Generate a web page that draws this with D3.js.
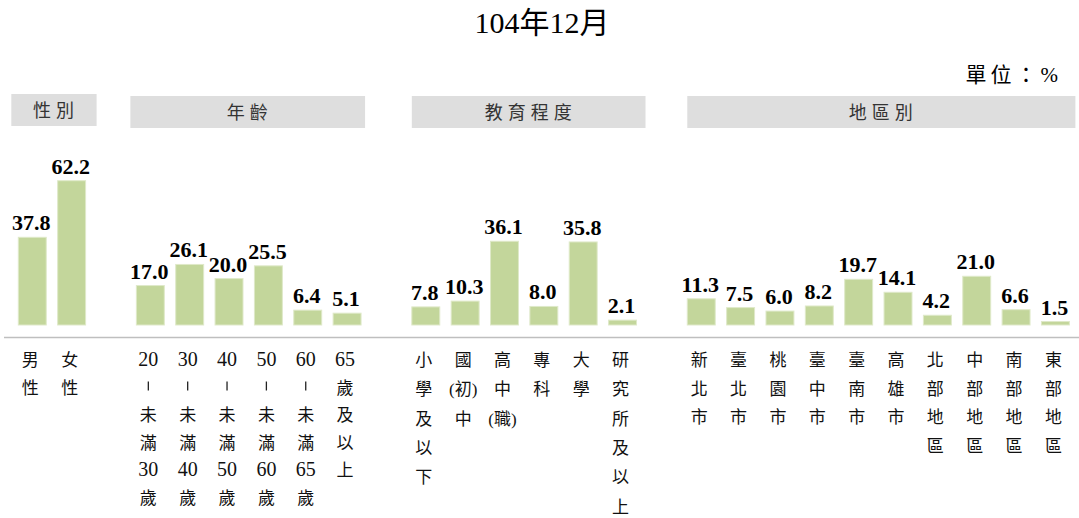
<!DOCTYPE html>
<html><head><meta charset="utf-8">
<script src="https://cdn.jsdelivr.net/npm/d3@7"></script>
<style>
html,body{margin:0;padding:0;background:#fff;}
svg{display:block;}
</style></head>
<body><svg id="c" width="1079" height="518"></svg>
<script>
// ---- data ----
const title = "104年12月";
const unitLabel = "單位：%";
const groupNames = ["性別", "年齡", "教育程度", "地區別"];
const sexCats = ["男性", "女性"];
const sexVals = [37.8, 62.2];
const ageCats = ["20－未滿30歲", "30－未滿40歲", "40－未滿50歲", "50－未滿60歲", "60－未滿65歲", "65歲及以上"];
const ageVals = [17.0, 26.1, 20.0, 25.5, 6.4, 5.1];
const eduCats = ["小學及以下", "國(初)中", "高中(職)", "專科", "大學", "研究所及以上"];
const eduVals = [7.8, 10.3, 36.1, 8.0, 35.8, 2.1];
const regCats = ["新北市", "臺北市", "桃園市", "臺中市", "臺南市", "高雄市", "北部地區", "中部地區", "南部地區", "東部地區"];
const regVals = [11.3, 7.5, 6.0, 8.2, 19.7, 14.1, 4.2, 21.0, 6.6, 1.5];

// ---- layout ----
const W = 1079, H = 518;
const svg = d3.select("#c");
const serif = "'Liberation Serif','Times New Roman','Noto Sans CJK TC',serif";
const cjk = "'Liberation Serif','Noto Sans CJK TC',serif";

const groups = [
  {name: groupNames[0], cats: sexCats, vals: sexVals, hdr: [-7, 11], hy: 94, lh: 28},
  {name: groupNames[1], cats: ageCats, vals: ageVals, hdr: [-6, 4], hy: 96, lh: 27.5},
  {name: groupNames[2], cats: eduCats, vals: eduVals, hdr: [0, 9], hy: 96, lh: 29.3},
  {name: groupNames[3], cats: regCats, vals: regVals, hdr: [0, 6], hy: 96, lh: 28.5}
];

const slots = [];
const items = [];
groups.forEach((g, gi) => {
  if (gi > 0) slots.push("gap" + gi);
  g.keys = [];
  g.cats.forEach((c, i) => {
    const k = gi + ":" + c;
    slots.push(k);
    g.keys.push(k);
    items.push({key: k, cat: c, val: g.vals[i], g});
  });
});

const x = d3.scaleBand().domain(slots).range([12.6, 1075.1]).paddingInner(0.29).paddingOuter(0.145);
const y = d3.scaleLinear().domain([0, 70]).range([325, 325 - 70 * 2.32]);

// title
svg.append("text").attr("x", 542).attr("y", 33).attr("text-anchor", "middle")
  .style("font-family", cjk).style("font-size", "30px").attr("fill", "#000").text(title);
svg.append("text").attr("x", 1062).attr("y", 82).attr("text-anchor", "end")
  .style("font-family", cjk).style("font-size", "21px").style("letter-spacing", "4px")
  .attr("fill", "#000").text(unitLabel);

// group headers
groups.forEach(g => {
  const x0 = x(g.keys[0]) + g.hdr[0];
  const x1 = x(g.keys[g.keys.length - 1]) + x.bandwidth() + g.hdr[1];
  svg.append("rect").attr("x", x0).attr("y", g.hy).attr("width", x1 - x0).attr("height", 32)
    .attr("fill", "#dedede");
  svg.append("text").attr("x", (x0 + x1) / 2 + 2).attr("y", g.hy + 23).attr("text-anchor", "middle")
    .style("font-family", cjk).style("font-size", "18px").style("letter-spacing", "5px")
    .attr("fill", "#333").text(g.name);
});

// bars
svg.append("g").selectAll("rect").data(items).join("rect")
  .attr("x", d => x(d.key)).attr("width", x.bandwidth())
  .attr("y", d => y(d.val)).attr("height", d => y(0) - y(d.val))
  .attr("fill", "#c3d69b").attr("stroke", "#dfe9c9").attr("stroke-width", 1);

// value labels
svg.append("g").selectAll("text").data(items).join("text")
  .attr("x", d => x(d.key) + x.bandwidth() / 2 - 1)
  .attr("y", d => y(d.val) - 7)
  .attr("text-anchor", "middle")
  .style("font-family", serif).style("font-size", "22px").style("font-weight", "bold")
  .attr("fill", "#000").text(d => d.val.toFixed(1));

// axis line
svg.append("line").attr("x1", 4).attr("x2", W).attr("y1", 337.5).attr("y2", 337.5)
  .attr("stroke", "#bfbfbf").attr("stroke-width", 1.5);

// category labels (vertical stacked)
const tokenize = s => s.match(/\d+|\([^)]*\)|./g);
items.forEach(d => {
  const cx = x(d.key) + x.bandwidth() / 2 - 2;
  const toks = tokenize(d.cat);
  toks.forEach((t, i) => {
    const yy = 366 + i * d.g.lh;
    if (t === "－") {
      svg.append("line").attr("x1", cx).attr("x2", cx).attr("y1", yy - 12).attr("y2", yy - 3)
        .attr("stroke", "#222").attr("stroke-width", 1.3);
    } else {
      svg.append("text").attr("x", cx).attr("y", yy).attr("text-anchor", "middle")
        .style("font-family", cjk).style("font-size", /\d/.test(t) ? "20px" : "17px")
        .attr("fill", "#111").text(t);
    }
  });
});
</script></body></html>
